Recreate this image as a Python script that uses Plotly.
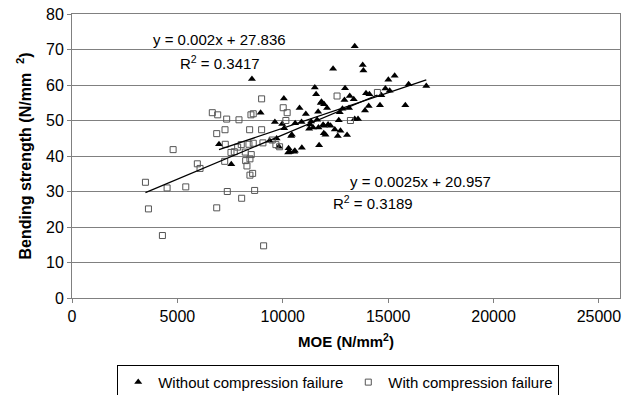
import plotly.graph_objects as go

# Without compression failure (triangles)
tri_x = [13414, 12387, 8537, 11520, 11582, 12955, 10052, 11837, 11961, 12927, 13178, 13367,
         10796, 11094, 11677, 8949, 9626, 10588, 10891, 11345, 11629, 11440, 11695, 11946,
         12150, 10067, 12467, 12737, 11946, 12027, 10398, 12610, 13050, 9707, 9375, 6975,
         11724, 9816, 10275, 10905, 10573, 10256, 7557, 13793, 13826, 15308, 15010, 15971,
         16809, 14868, 15072, 13949, 14110, 14678, 14077, 14612, 15815, 13145, 12832, 13902,
         12704, 13414, 13571, 12657, 12264, 9972, 11298, 11251, 11914, 10431, 10337, 10541,
         12102, 11805]
tri_y = [70.9, 64.6, 61.7, 59.3, 57.4, 59.1, 56.2, 55.3, 54.6, 55.8, 56.9, 56.0,
         53.5, 51.8, 52.5, 52.2, 49.6, 49.2, 49.6, 49.7, 50.2, 48.0, 48.0, 48.5,
         48.9, 47.8, 47.5, 47.1, 46.4, 46.0, 45.6, 45.6, 45.9, 44.9, 44.3, 43.3,
         43.0, 42.6, 42.2, 42.3, 41.5, 41.0, 37.7, 65.6, 64.1, 62.6, 61.5, 60.2,
         59.7, 59.0, 58.4, 57.7, 57.4, 57.1, 54.1, 54.3, 54.3, 53.5, 53.3, 52.8,
         52.3, 50.4, 50.4, 50.1, 48.5, 49.0, 48.9, 47.7, 48.8, 46.0, 41.1, 41.2,
         53.5, 54.9]

# With compression failure (open squares)
sq_x = [6657, 6913, 7339, 6866, 7259, 7273, 4797, 5947, 6075, 7245, 3485, 4512, 5398,
        7368, 3627, 6866, 4290, 8996, 12576, 8600, 8490, 10020, 10209, 7922, 10147, 13210,
        8428, 8996, 9058, 8031, 7860, 8395, 8600, 9674, 9849, 7543, 7700, 8220, 8504,
        8443, 8239, 8300, 8443, 8570, 8665, 8050, 9091, 14490, 9498]
sq_y = [52.2, 51.6, 50.4, 46.3, 47.4, 43.3, 41.8, 37.8, 36.5, 38.5, 32.6, 31.0, 31.3,
        30.0, 25.1, 25.4, 17.6, 56.1, 56.9, 51.9, 51.6, 53.6, 52.2, 50.2, 50.0, 50.0,
        47.4, 47.4, 43.7, 43.2, 42.5, 43.3, 43.6, 43.2, 42.6, 41.0, 41.2, 41.1, 40.4,
        39.2, 38.7, 37.2, 34.6, 35.1, 30.3, 28.1, 14.7, 57.9, 44.5]

# Linear trendlines (slope, intercept) and labels
tri_fit = [0.002, 27.836]
sq_fit = [0.0025, 20.957]
tri_label = ["y = 0.002x + 27.836", "R<sup>2</sup> = 0.3417"]
sq_label = ["y = 0.0025x + 20.957", "R<sup>2</sup> = 0.3189"]

x_ticks = [0, 5000, 10000, 15000, 20000, 25000]
y_ticks = [0, 10, 20, 30, 40, 50, 60, 70, 80]

FONT = "Liberation Sans, Arial, sans-serif"

fig = go.Figure()
fig.add_trace(go.Scatter(
    x=tri_x, y=tri_y, mode="markers", name="Without compression failure",
    marker=dict(symbol="triangle-up", size=7, color="black"),
))
fig.add_trace(go.Scatter(
    x=sq_x, y=sq_y, mode="markers", name="With compression failure",
    marker=dict(symbol="square-open", size=6, color="#555555", line=dict(width=1)),
))

def line_pts(xs, fit):
    lo, hi = min(xs), max(xs)
    return [lo, hi], [fit[0] * lo + fit[1], fit[0] * hi + fit[1]]

lx, ly = line_pts(tri_x, tri_fit)
fig.add_trace(go.Scatter(x=lx, y=ly, mode="lines", line=dict(color="black", width=1.3),
                         showlegend=False, hoverinfo="skip"))
lx, ly = line_pts(sq_x, sq_fit)
fig.add_trace(go.Scatter(x=lx, y=ly, mode="lines", line=dict(color="black", width=1.3),
                         showlegend=False, hoverinfo="skip"))

ann_font = dict(family=FONT, size=15, color="black")
fig.add_annotation(x=6975, y=72.7, text=tri_label[0], showarrow=False, font=ann_font)
fig.add_annotation(x=7022, y=66.4, text=tri_label[1], showarrow=False, font=ann_font)
fig.add_annotation(x=16540, y=32.9, text=sq_label[0], showarrow=False, font=ann_font)
fig.add_annotation(x=14268, y=26.8, text=sq_label[1], showarrow=False, font=ann_font)

fig.update_layout(
    width=631, height=395,
    margin=dict(l=72, r=11, t=14, b=97, autoexpand=False),
    paper_bgcolor="white", plot_bgcolor="white",
    font=dict(family=FONT, size=15, color="black"),
    showlegend=True,
    legend=dict(orientation="h", xref="container", yref="container",
                x=0.536, y=0.032, xanchor="center", yanchor="middle",
                bordercolor="black", borderwidth=1, font=dict(size=15),
                itemwidth=30, tracegroupgap=0, itemsizing="trace"),
    xaxis=dict(range=[0, 26000], tickvals=x_ticks, ticktext=[str(v) for v in x_ticks],
               showgrid=False, zeroline=False, showline=True, linecolor="#808080",
               linewidth=1, mirror=True, ticks="outside", ticklen=4, tickcolor="#808080",
               tickfont=dict(size=16), automargin=False,
               title=dict(text="<b>MOE (N/mm<sup>2</sup>)</b>", font=dict(size=15), standoff=12)),
    yaxis=dict(range=[0, 80], tickvals=y_ticks, showgrid=True, gridcolor="#808080",
               gridwidth=1, zeroline=False, showline=True, linecolor="#808080",
               linewidth=1, mirror=True, ticks="outside", ticklen=4, tickcolor="#808080",
               tickfont=dict(size=16), automargin=False,
               title=dict(text="<b>Bending strength (N/mm  <sup>2</sup>)</b>", font=dict(size=16),
                          standoff=10)),
)

fig.write_html("out.html")
